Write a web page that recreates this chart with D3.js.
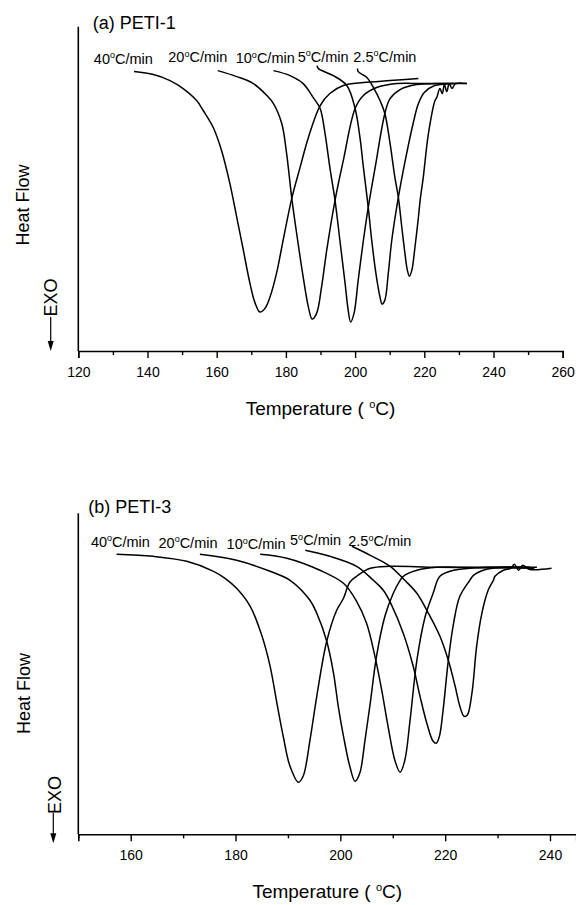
<!DOCTYPE html>
<html><head><meta charset="utf-8">
<script src="https://cdn.jsdelivr.net/npm/d3@7"></script>
<style>
body{margin:0;background:#fff}
svg{display:block}
text{font-family:Arial,"Liberation Sans",sans-serif;fill:#000}
</style>
</head><body>
<svg id="chart" width="576" height="905"></svg>
<script>
// ---------- DATA (Temperature °C, heat flow a.u.) ----------
const rateLabels = ["40", "20", "10", "5", "2.5"];

// (a) PETI-1
const petiA_40 = [[136.1,28.0],[141.7,27.7],[146.5,27.1],[150.3,26.3],[154.2,25.1],[156.1,24.1],[159.0,22.4],[161.4,20.1],[163.8,16.8],[165.8,13.4],[167.7,10.1],[169.6,6.8],[171.1,4.8],[172.5,3.9],[174.0,4.3],[175.4,5.4],[177.3,7.8],[179.2,11.1],[181.7,15.3],[184.1,18.4],[186.5,21.4],[189.9,24.6],[192.7,25.8],[196.6,26.6],[202.4,26.9],[210.1,27.1],[218.3,27.3]];
const petiA_20 = [[160.3,28.1],[165.8,27.5],[170.6,26.8],[174.5,25.6],[176.4,24.8],[178.8,22.8],[180.2,19.8],[181.7,15.3],[183.1,11.8],[185.0,7.4],[186.5,4.4],[187.6,3.2],[188.9,3.8],[190.3,6.4],[191.8,10.1],[194.2,15.1],[196.6,19.1],[200.0,24.3],[202.4,25.6],[206.2,26.4],[212.0,26.8],[219.7,26.8],[228.4,26.8]];
const petiA_10 = [[176.4,28.1],[181.2,27.6],[185.0,26.8],[187.9,25.4],[189.9,24.3],[191.3,21.8],[192.7,18.4],[194.2,15.1],[195.6,11.1],[197.1,6.8],[198.0,4.1],[198.7,2.9],[199.7,3.8],[200.9,7.1],[202.4,11.1],[203.8,14.4],[205.8,18.4],[208.6,23.8],[210.1,25.3],[213.0,26.2],[217.8,26.7],[223.6,26.8],[229.4,26.8]];
const petiA_5 = [[189.0,28.6],[189.4,28.3],[193.7,27.6],[197.6,26.6],[200.0,24.3],[201.4,21.4],[202.4,18.4],[203.8,14.4],[204.8,11.1],[206.0,7.8],[207.2,5.4],[207.8,4.7],[208.6,5.1],[209.6,7.8],[210.6,11.1],[212.5,15.4],[214.5,19.1],[216.9,23.0],[218.3,24.8],[220.0,25.9],[223.0,26.6],[228.4,26.8],[232.3,26.8]];
const petiA_2_5 = [[200.7,28.3],[200.9,28.0],[203.4,27.4],[205.3,26.4],[207.2,25.1],[208.6,23.8],[210.1,20.8],[211.5,17.4],[212.5,15.4],[213.5,12.4],[214.4,9.8],[215.1,8.1],[215.7,7.5],[216.4,8.1],[217.3,10.4],[218.3,13.4],[218.8,15.1],[219.7,17.4],[221.2,21.8],[223.1,25.1],[223.6,25.4],[224.5,26.3],[225.2,25.8],[225.8,26.7],[226.5,26.0],[227.2,26.8],[228.0,26.3],[229.0,26.8],[232.3,26.8]];

// (b) PETI-3
const petiB_40 = [[157.3,28.0],[164.3,27.8],[170.7,27.3],[175.8,26.3],[178.0,25.6],[180.2,24.6],[182.8,22.8],[185.0,19.9],[186.6,16.8],[187.9,13.1],[189.1,9.8],[190.4,6.8],[192.0,5.2],[192.9,5.8],[194.2,9.4],[195.5,13.8],[197.4,19.3],[199.3,22.4],[200.6,23.6],[201.8,25.2],[203.1,25.8],[205.7,26.6],[209.5,26.8],[218.4,26.7],[237.0,26.6]];
const petiB_20 = [[173.2,28.0],[180.2,27.4],[186.6,26.3],[190.4,25.4],[194.2,23.4],[195.5,22.1],[197.4,19.3],[198.7,16.1],[199.6,12.8],[200.6,9.8],[201.8,6.8],[202.8,5.3],[203.7,6.1],[204.7,9.4],[205.7,13.1],[206.9,17.8],[208.5,21.8],[210.1,24.1],[211.4,25.4],[212.0,25.8],[214.6,26.4],[218.4,26.7],[224.7,26.7],[231.1,26.7]];
const petiB_10 = [[184.7,28.0],[189.8,27.6],[196.1,26.4],[200.6,25.1],[203.1,23.3],[205.0,21.1],[206.6,17.8],[207.9,14.4],[209.1,10.8],[210.4,7.4],[211.4,6.2],[212.3,7.4],[213.3,11.4],[214.6,17.4],[216.2,21.8],[217.7,24.1],[219.0,25.8],[221.6,26.4],[227.9,26.7],[236.2,26.7]];
const petiB_5 = [[193.3,28.4],[198.0,27.8],[203.1,26.8],[206.3,25.4],[208.2,24.4],[209.8,22.9],[212.0,20.1],[213.9,16.8],[215.2,13.8],[216.5,11.1],[217.7,9.3],[218.3,9.1],[218.9,9.8],[219.6,12.4],[220.6,17.4],[221.6,21.1],[222.8,23.8],[224.7,25.4],[225.4,25.9],[227.9,26.5],[231.1,26.7],[237.5,26.7]];
const petiB_2_5 = [[202.2,28.8],[205.7,27.9],[209.5,26.8],[212.3,25.4],[214.6,24.1],[216.8,22.1],[219.0,19.8],[220.6,17.4],[221.9,14.8],[222.8,12.8],[223.6,11.8],[224.2,11.9],[225.1,14.1],[226.0,18.8],[227.0,22.1],[228.2,24.4],[229.2,25.4],[229.5,25.8],[231.1,26.4],[232.5,26.6],[233.2,27.0],[234.0,26.4],[234.8,26.9],[236.0,26.5],[240.3,26.6]];

const topTicks = [120,130,140,150,160,170,180,190,200,210,220,230,240,250,260];
const topTickLabels = [120,140,160,180,200,220,240,260];
const botTicks = [150,160,170,180,190,200,210,220,230,240];
const botTickLabels = [160,180,200,220,240];

// ---------- LAYOUT ----------
const panels = [
  { title: "(a) PETI-1", series: [petiA_40, petiA_20, petiA_10, petiA_5, petiA_2_5],
    xDomain: [120,260], xRange: [78.3,562.7], yDomain: [0,32.5], yRange: [351,26.7],
    ticks: topTicks, tickLabels: topTickLabels,
    titlePos: [92.7, 28.5], yLabelCenter: 205, yLabelX: 28.5,
    exoCenter: 297.5, exoX: 57, arrowX: 50.7, arrowTop: 317, arrowTip: 351,
    labelAnchors: [[124.5,28.8],[146.0,28.95],[165.5,28.85],[183.4,29.0],[199.5,29.0]] },
  { title: "(b) PETI-3", series: [petiB_40, petiB_20, petiB_10, petiB_5, petiB_2_5],
    xDomain: [150,245], xRange: [78.3,576.2], yDomain: [0,32.1], yRange: [834.3,513.3],
    ticks: botTicks, tickLabels: botTickLabels,
    titlePos: [88.3, 513], yLabelCenter: 693.5, yLabelX: 29.8,
    exoCenter: 795, exoX: 61, arrowX: 53.3, arrowTop: 813, arrowTip: 843.3,
    labelAnchors: [[152.4,28.76],[165.3,28.66],[178.3,28.53],[190.4,28.93],[201.5,28.83]] }
];

const svg = d3.select("#chart");

function degText(g, x, y, before, after, size, supSize, raise, anchor) {
  const t = g.append("text").attr("x", x).attr("y", y).style("font-size", size + "px");
  if (anchor) t.attr("text-anchor", anchor);
  t.append("tspan").text(before);
  t.append("tspan").style("font-size", supSize + "px").attr("dy", -raise).text("o");
  t.append("tspan").attr("dy", raise).text(after);
  return t;
}

panels.forEach(p => {
  const x = d3.scaleLinear().domain(p.xDomain).range(p.xRange);
  const y = d3.scaleLinear().domain(p.yDomain).range(p.yRange);
  const g = svg.append("g");

  // y axis line (no ticks)
  g.append("line").attr("x1", x.range()[0]).attr("x2", x.range()[0])
    .attr("y1", y.range()[1]).attr("y2", y.range()[0])
    .attr("stroke", "#000").attr("stroke-width", 1.6);

  // x axis
  const axis = d3.axisBottom(x).tickValues(p.ticks).tickSizeOuter(0).tickSize(7);
  const ag = g.append("g").attr("transform", `translate(0,${y.range()[0]})`).call(axis)
    .attr("font-family", null).attr("font-size", null);
  ag.select(".domain").attr("stroke-width", 1.6);
  ag.selectAll(".tick line").attr("stroke-width", 1.4)
    .attr("y2", d => p.tickLabels.includes(d) ? 7 : 4);
  ag.selectAll(".tick text").text(d => p.tickLabels.includes(d) ? d : "")
    .attr("y", 26).attr("dy", 0).style("font-size", "14px");

  // axis titles
  const xc = (x.range()[0] + x.range()[1]) / 2;
  degText(g, xc, y.range()[0] + 64, "Temperature ( ", "C)", 19, 11, 7, "middle");
  g.append("text").attr("transform", `translate(${p.yLabelX},${p.yLabelCenter}) rotate(-90)`)
    .attr("text-anchor", "middle").style("font-size", "18px").text("Heat Flow");
  g.append("text").attr("transform", `translate(${p.exoX},${p.exoCenter}) rotate(-90)`)
    .attr("text-anchor", "middle").style("font-size", "18px").text("EXO");
  g.append("line").attr("x1", p.arrowX).attr("x2", p.arrowX)
    .attr("y1", p.arrowTop).attr("y2", p.arrowTip - 6)
    .attr("stroke", "#000").attr("stroke-width", 1.2);
  g.append("path")
    .attr("d", `M${p.arrowX - 3},${p.arrowTip - 10}L${p.arrowX + 3},${p.arrowTip - 10}L${p.arrowX},${p.arrowTip}Z`)
    .attr("fill", "#000");

  // panel title
  g.append("text").attr("x", p.titlePos[0]).attr("y", p.titlePos[1])
    .style("font-size", "18px").text(p.title);

  // curves
  const line = d3.line().x(d => x(d[0])).y(d => y(d[1])).curve(d3.curveCatmullRom.alpha(0.5));
  p.series.forEach(s => {
    g.append("path").attr("d", line(s)).attr("fill", "none")
      .attr("stroke", "#000").attr("stroke-width", 1.5).attr("stroke-linejoin", "round");
  });

  // rate labels
  rateLabels.forEach((r, i) => {
    const a = p.labelAnchors[i];
    degText(g, x(a[0]), y(a[1]), r, "C/min", 14.5, 9, 5.5);
  });
});
</script>
</body></html>
